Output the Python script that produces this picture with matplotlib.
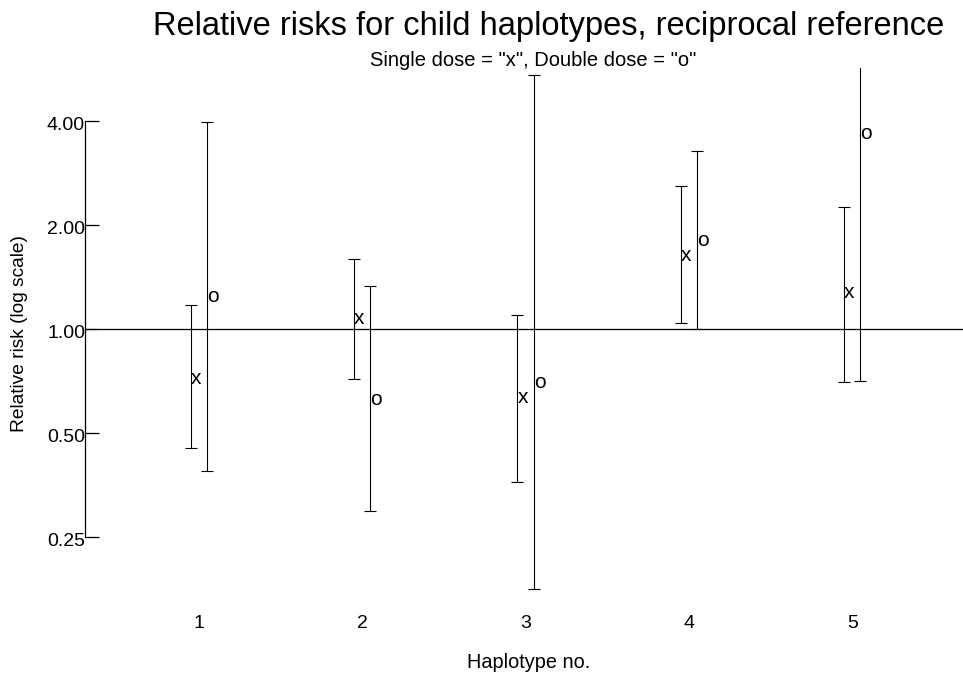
import matplotlib
matplotlib.use("Agg")
import matplotlib.pyplot as plt
import matplotlib.transforms as mtransforms
import numpy as np

plt.rcParams['font.family'] = ['Liberation Sans', 'DejaVu Sans']

haplotypes = [1, 2, 3, 4, 5]
single_est = [0.72, 1.07, 0.632, 1.63, 1.27]
single_lo = [0.452, 0.717, 0.36, 1.04, 0.70]
single_hi = [1.17, 1.59, 1.10, 2.59, 2.25]
double_est = [1.24, 0.623, 0.698, 1.80, 3.67]
double_lo = [0.388, 0.297, 0.177, 1.00, 0.707]
double_hi = [3.98, 1.33, 5.42, 3.28, 6.5]
ytick_vals = [0.25, 0.5, 1.0, 2.0, 4.0]
ytick_labels = ["0.25", "0.50", "1.00", "2.00", "4.00"]

fig = plt.figure(figsize=(9.63, 6.77), dpi=100)
ax = fig.add_axes([85/963, 1 - 600/677, 1 - 85/963, (600 - 68)/677])

off = 0.05
h = np.array(haplotypes, dtype=float)
se = np.array(single_est); sl = np.array(single_lo); sh = np.array(single_hi)
de = np.array(double_est); dl = np.array(double_lo); dh = np.array(double_hi)

ax.set_yscale('log')
ax.set_ylim(0.164, 5.69)
ax.set_xlim(0.302, 5.678)

ax.axhline(1.0, color='black', lw=0.9, zorder=1)

ax.errorbar(h - off, se, yerr=[se - sl, sh - se], fmt='none', ecolor='black',
            elinewidth=0.8, capsize=4.3, capthick=0.8)
ax.errorbar(h + off, de, yerr=[de - dl, dh - de], fmt='none', ecolor='black',
            elinewidth=0.8, capsize=4.3, capthick=0.8)

fs_mark = 15
dy = mtransforms.ScaledTranslation(0, -0.26 * fs_mark / 72, fig.dpi_scale_trans)
for xi, yi in zip(h - off, se):
    ax.text(xi, yi, "x", ha='left', va='baseline', fontsize=fs_mark,
            transform=ax.transData + dy)
for xi, yi in zip(h + off, de):
    ax.text(xi, yi, "o", ha='left', va='baseline', fontsize=fs_mark,
            transform=ax.transData + dy)

for s in ['top', 'right', 'bottom']:
    ax.spines[s].set_visible(False)
ax.spines['left'].set_bounds(0.25, 4.0)
ax.spines['left'].set_linewidth(0.9)

ax.set_yticks(ytick_vals)
ax.set_yticklabels(ytick_labels)
ax.yaxis.set_minor_locator(matplotlib.ticker.NullLocator())
ax.tick_params(axis='y', direction='in', length=10, width=0.9, pad=0, labelsize=14)
for lab in ax.get_yticklabels():
    lab.set_transform(lab.get_transform() + mtransforms.ScaledTranslation(0, -3/100, fig.dpi_scale_trans))

ax.set_xticks(haplotypes)
ax.set_xticklabels([str(v) for v in haplotypes])
ax.tick_params(axis='x', length=0, pad=11, labelsize=14)

fig.text(549/963, 1 - 35/677, "Relative risks for child haplotypes, reciprocal reference",
         ha='center', va='baseline', fontsize=23.5)
fig.text(533/963, 1 - 66/677, 'Single dose = "x", Double dose = "o"',
         ha='center', va='baseline', fontsize=14.5)
fig.text(529/963, 1 - 662/677, "Haplotype no.", ha='center', va='center', fontsize=14.3)
fig.text(20/963, 1 - 333/677, "Relative risk (log scale)", ha='center', va='center',
         rotation=90, fontsize=13.8)

fig.savefig("out.png", dpi=100)
